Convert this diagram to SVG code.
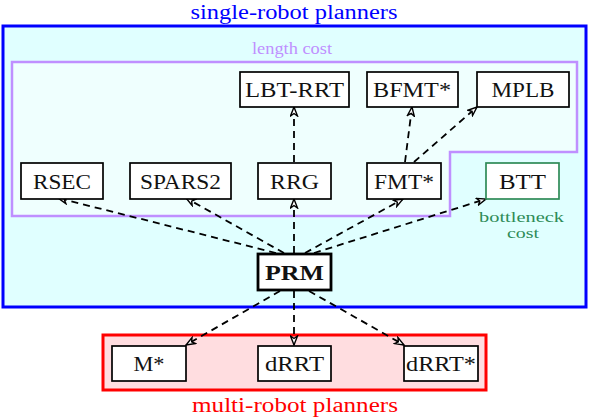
<svg xmlns="http://www.w3.org/2000/svg" width="590" height="418" viewBox="0 0 590 418">
<defs>
<style>
.nd{fill:#ffffff;stroke:#000;stroke-width:1.7}
.lb{font-family:"Liberation Serif","DejaVu Serif",serif;font-size:21px;text-anchor:middle;fill:#111}
.e{fill:none;stroke:#000;stroke-width:1.8;stroke-dasharray:7 5;marker-end:url(#ah)}
.cap{font-family:"Liberation Serif","DejaVu Serif",serif;text-anchor:middle}
</style>
<marker id="ah" viewBox="0 0 11 9" refX="10" refY="4.5" markerWidth="11" markerHeight="9" markerUnits="userSpaceOnUse" orient="auto">
<path d="M1,1 L10,4.5 L1,8 L3.5,4.5 Z" fill="#fff" stroke="#000" stroke-width="1.4" stroke-linejoin="miter"/>
</marker>
</defs>
<g id="single-robot">
<rect x="3" y="26" width="583" height="281" fill="#e0ffff" stroke="#0000ff" stroke-width="3"/>
<text class="cap" x="294" y="18.5" font-size="20" fill="#0000ff" textLength="207" lengthAdjust="spacingAndGlyphs">single-robot planners</text>
</g>
<g id="length-cost">
<path d="M12,62 H577 V152 H450 V216 H12 Z" fill="#effffe" stroke="#bf8fff" stroke-width="2.5"/>
<text class="cap" x="292" y="54" font-size="16" fill="#bf8fff" textLength="80" lengthAdjust="spacingAndGlyphs">length cost</text>
</g>
<g id="multi-robot">
<rect x="103" y="335" width="383" height="55" fill="#ffdde0" stroke="#ff0000" stroke-width="3"/>
<text class="cap" x="295" y="412" font-size="20" fill="#ff0000" textLength="206" lengthAdjust="spacingAndGlyphs">multi-robot planners</text>
</g>
<g id="connectors">
<line class="e" x1="276" y1="253" x2="58" y2="198"/>
<line class="e" x1="284" y1="253" x2="186" y2="198"/>
<line class="e" x1="294" y1="253" x2="294" y2="199"/>
<line class="e" x1="305" y1="253" x2="403" y2="199"/>
<line class="e" x1="314" y1="253" x2="486" y2="199"/>
<line class="e" x1="294" y1="162" x2="294" y2="107"/>
<line class="e" x1="405" y1="162" x2="412" y2="107"/>
<line class="e" x1="414" y1="162" x2="477" y2="107"/>
<line class="e" x1="280" y1="291" x2="186" y2="345"/>
<line class="e" x1="294" y1="291" x2="294" y2="345"/>
<line class="e" x1="309" y1="291" x2="404" y2="345"/>
</g>
<g id="LBT-RRT"><rect class="nd" x="240" y="72" width="109" height="35"/><text class="lb" x="294.5" y="97" textLength="99" lengthAdjust="spacingAndGlyphs">LBT-RRT</text></g>
<g id="BFMT"><rect class="nd" x="367" y="72" width="91" height="35"/><text class="lb" x="412" y="97" textLength="78" lengthAdjust="spacingAndGlyphs">BFMT*</text></g>
<g id="MPLB"><rect class="nd" x="477" y="72" width="92" height="35"/><text class="lb" x="523" y="97" textLength="63" lengthAdjust="spacingAndGlyphs">MPLB</text></g>
<g id="RSEC"><rect class="nd" x="21" y="163" width="82" height="36"/><text class="lb" x="62" y="189" textLength="58" lengthAdjust="spacingAndGlyphs">RSEC</text></g>
<g id="SPARS2"><rect class="nd" x="130" y="163" width="101" height="36"/><text class="lb" x="180.5" y="189" textLength="81" lengthAdjust="spacingAndGlyphs">SPARS2</text></g>
<g id="RRG"><rect class="nd" x="258" y="163" width="73" height="36"/><text class="lb" x="294.5" y="189" textLength="49" lengthAdjust="spacingAndGlyphs">RRG</text></g>
<g id="FMT"><rect class="nd" x="367" y="163" width="74" height="36"/><text class="lb" x="404" y="189" textLength="60" lengthAdjust="spacingAndGlyphs">FMT*</text></g>
<g id="BTT"><rect x="486" y="163" width="73" height="36" fill="#fff" stroke="#2e8b57" stroke-width="1.7"/><text class="lb" x="522.5" y="189" textLength="47" lengthAdjust="spacingAndGlyphs">BTT</text>
<text class="cap" x="521.5" y="222" font-size="15" fill="#2e8b57" textLength="85" lengthAdjust="spacingAndGlyphs">bottleneck</text>
<text class="cap" x="523" y="238" font-size="15" fill="#2e8b57" textLength="32" lengthAdjust="spacingAndGlyphs">cost</text></g>
<g id="PRM"><rect x="258" y="254" width="73" height="36" fill="#fff" stroke="#000" stroke-width="2.8"/><text class="lb" x="294.5" y="280" font-weight="bold" textLength="59" lengthAdjust="spacingAndGlyphs">PRM</text></g>
<g id="Mstar"><rect class="nd" x="112" y="346" width="74" height="35"/><text class="lb" x="149" y="371" textLength="31" lengthAdjust="spacingAndGlyphs">M*</text></g>
<g id="dRRT"><rect class="nd" x="258" y="346" width="73" height="35"/><text class="lb" x="294.5" y="371" textLength="59" lengthAdjust="spacingAndGlyphs">dRRT</text></g>
<g id="dRRTstar"><rect class="nd" x="404" y="346" width="74" height="35"/><text class="lb" x="441" y="371" textLength="70" lengthAdjust="spacingAndGlyphs">dRRT*</text></g>
</svg>
